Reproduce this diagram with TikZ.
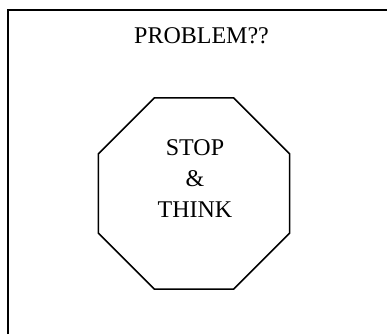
\documentclass[tikz,border=0pt]{standalone}
\usepackage{fontspec}
\setmainfont{Liberation Serif}
\usetikzlibrary{shapes.geometric}

\begin{document}
\begin{tikzpicture}[
  x=1pt,y=-1pt,
  frame/.style={line width=1.8pt},
  sign/.style={draw,regular polygon,regular polygon sides=8,minimum size=207pt,inner sep=0pt,line width=1.6pt},
  words/.style={align=center,font=\fontsize{24}{31}\selectfont}]
  \useasboundingbox (0,0) rectangle (387,334);
  \draw[frame] (8,334) |- (387,10);
  \node[words,anchor=base] (title) at (201.5,43.5) {PROBLEM??};
  \node[sign] (stop) at (194,193.5) {};
  \node[words,anchor=north] (think) at (195,136) {STOP\\\&\\THINK};
\end{tikzpicture}
\end{document}
